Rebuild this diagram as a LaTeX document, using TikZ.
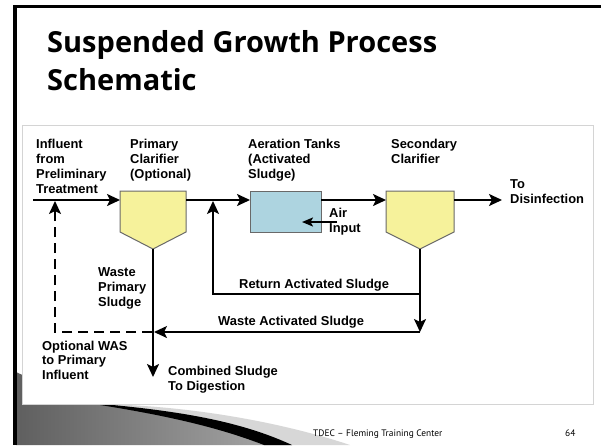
\documentclass[tikz,border=0pt]{standalone}
\usepackage{fontspec}
\setmainfont{Liberation Sans}
\newfontfamily\titlefont{Open Sans}
\newfontfamily\footfont{PT Sans}
\usetikzlibrary{arrows.meta}

\definecolor{clarfill}{RGB}{246,242,155}
\definecolor{tankfill}{RGB}{173,212,224}
\definecolor{unitedge}{RGB}{105,105,105}
\definecolor{paneledge}{RGB}{212,212,212}
\definecolor{swooshdark}{RGB}{95,95,95}
\definecolor{swooshlight}{RGB}{170,170,170}
\definecolor{swooshpale}{RGB}{215,215,215}

\begin{document}
\begin{tikzpicture}[x=1pt,y=-1pt,
  pipe/.style={line width=2pt},
  flow/.style={pipe,-{Stealth[length=13pt,width=12pt,inset=3pt]}},
  airflow/.style={pipe,-{Stealth[length=11pt,width=9pt,inset=2.5pt]}},
  recycle/.style={pipe,dash pattern=on 10pt off 6pt,-{Stealth[length=13pt,width=12pt,inset=3pt]}},
  unit/.style={draw=unitedge,line width=1pt},
  % multi-line labels are anchored at the baseline of their last line
  lbl/.style={font=\fontsize{12.9}{15}\selectfont\bfseries,inner sep=0pt,anchor=base west,align=left},
  titletext/.style={anchor=base west,inner sep=0pt,font=\titlefont\bfseries\fontsize{29}{38}\selectfont},
  foottext/.style={anchor=base west,inner sep=0pt,font=\footfont\fontsize{9.4}{11}\selectfont},
]
\useasboundingbox (0,0) rectangle (601,445);
\fill[white] (0,0) rectangle (601,445);

% slide frame and corner swoosh
\shade[left color=swooshdark,right color=swooshlight]
  (16,372) .. controls (50,388) and (75,398) .. (97,404)
  .. controls (180,412) and (240,422) .. (292,445) -- (16,445) -- cycle;
\fill[swooshpale] (100,404) .. controls (200,406) and (290,425) .. (350,445)
  -- (292,445) .. controls (240,422) and (180,412) .. (100,404) -- cycle;
\fill[black] (97,403.5) .. controls (180,411) and (240,421) .. (292,445)
  -- (264,445) .. controls (220,428) and (170,416) .. (97,404.5) -- cycle;
\fill[black] (13,5) rectangle (16.5,445);
\fill[black] (13,5) rectangle (601,7.5);

% title
\node (title1) [titletext] at (47,52) {Suspended Growth Process};
\node (title2) [titletext] at (47,90) {Schematic};

% diagram panel
\draw[paneledge,fill=white,line width=1pt] (22,125) rectangle (593,404);

% process units
\draw[unit,fill=clarfill] (120,191) -- (186,191) -- (186,232) -- (153,249) -- (120,232) -- cycle;
\node (tank) [draw=unitedge,line width=1pt,fill=tankfill,minimum width=71pt,minimum height=41pt,inner sep=0pt,anchor=north west] at (250,191) {};
\draw[unit,fill=clarfill] (386,191) -- (454,191) -- (454,232) -- (420,249) -- (386,232) -- cycle;

% connection points
\coordinate (src) at (33,200);
\coordinate (pc-in) at (120,200);
\coordinate (pc-out) at (186,200);
\coordinate (pc-bot) at (153,249);
\coordinate (ret-j) at (213,201);
\coordinate (tank-in) at (250,200);
\coordinate (tank-out) at (321,200);
\coordinate (sc-in) at (386,200);
\coordinate (sc-out) at (454,200);
\coordinate (sc-bot) at (420,249);
\coordinate (dis) at (502,200);
\coordinate (air-src) at (337,222);
\coordinate (air-in) at (302,222);
\coordinate (ras-r) at (420,294);
\coordinate (was-r) at (420,332);
\coordinate (was-l) at (154,332);
\coordinate (was-split) at (152,332);
\coordinate (inf-j) at (55,201);
\coordinate (digest) at (153,377);

% flows
\draw[flow] (src) -- (pc-in);
\draw[flow] (pc-out) -- (tank-in);
\draw[flow] (tank-out) -- (sc-in);
\draw[flow] (sc-out) -- (dis);
\draw[airflow] (air-src) -- (air-in);
\draw[flow] (sc-bot) -- (was-r);
\draw[flow] (ras-r) -| (ret-j);
\draw[flow] (was-r) -- (was-l);
\draw[recycle] (was-split) -| (inf-j);
\draw[flow] (pc-bot) -- (digest);

% labels
\node (l-inf) [lbl] at (36,193) {Influent\\from\\Preliminary\\Treatment};
\node (l-pc) [lbl] at (130,178) {Primary\\Clarifier\\(Optional)};
\node (l-aer) [lbl] at (248,178) {Aeration Tanks\\(Activated\\Sludge)};
\node (l-sc) [lbl] at (391,163) {Secondary\\Clarifier};
\node (l-dis) [lbl] at (510,203) {To\\Disinfection};
\node (l-air) [lbl] at (329,232) {Air\\Input};
\node (l-wps) [lbl] at (98,306) {Waste\\Primary\\Sludge};
\node (l-ras) [lbl] at (239,288) {Return Activated Sludge};
\node (l-was) [lbl] at (218,325) {Waste Activated Sludge};
\node (l-opt) [lbl,font=\fontsize{12.9}{14.5}\selectfont\bfseries] at (42,379) {Optional WAS\\to Primary\\Influent};
\node (l-cs) [lbl,font=\fontsize{12.9}{14.5}\selectfont\bfseries] at (168,390) {Combined Sludge\\To Digestion};

% footer
\node (footer) [foottext] at (313,436) {TDEC – Fleming Training Center};
\node (pageno) [foottext] at (565,436) {64};
\end{tikzpicture}
\end{document}
